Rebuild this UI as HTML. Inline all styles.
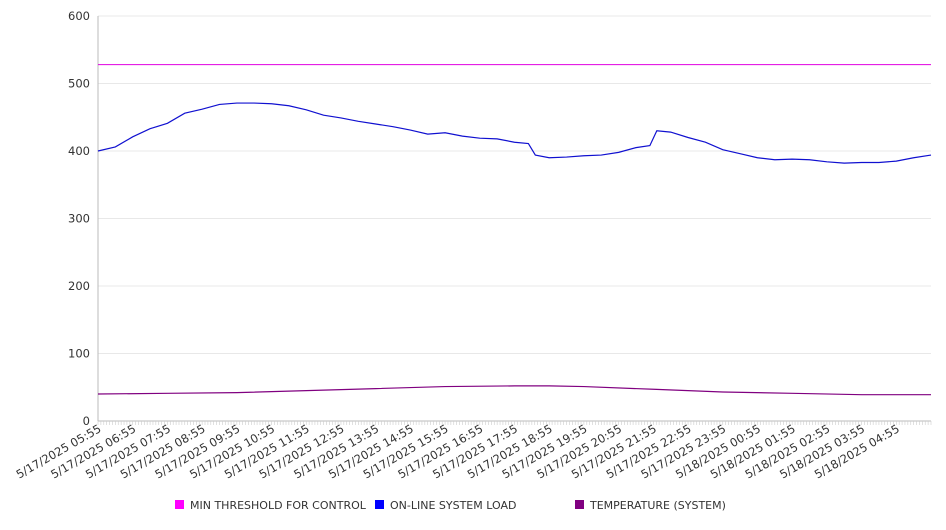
<!DOCTYPE html>
<html><head><meta charset="utf-8"><style>
body{margin:0;background:#fff;font-family:"DejaVu Sans","Liberation Sans",sans-serif}
svg text{font-family:"DejaVu Sans","Liberation Sans",sans-serif;fill:#333}
</style></head><body>
<svg id="chart" width="946" height="526" xmlns="http://www.w3.org/2000/svg"></svg>
<script>
const yTicks=[0,100,200,300,400,500,600];
const xLabels=["5/17/2025 05:55","5/17/2025 06:55","5/17/2025 07:55","5/17/2025 08:55","5/17/2025 09:55","5/17/2025 10:55","5/17/2025 11:55","5/17/2025 12:55","5/17/2025 13:55","5/17/2025 14:55","5/17/2025 15:55","5/17/2025 16:55","5/17/2025 17:55","5/17/2025 18:55","5/17/2025 19:55","5/17/2025 20:55","5/17/2025 21:55","5/17/2025 22:55","5/17/2025 23:55","5/18/2025 00:55","5/18/2025 01:55","5/18/2025 02:55","5/18/2025 03:55","5/18/2025 04:55"];
const loadHours=[0,0.5,1,1.5,2,2.5,3,3.5,4,4.5,5,5.5,6,6.5,7,7.5,8,8.5,9,9.5,10,10.5,11,11.5,12,12.4,12.6,13,13.5,14,14.5,15,15.5,15.9,16.1,16.5,17,17.5,18,18.5,19,19.5,20,20.5,21,21.5,22,22.5,23,23.5,24];
const loadValues=[400,406,421,433,441,456,462,469,471,471,470,467,461,453,449,444,440,436,431,425,427,422,419,418,413,411,394,390,391,393,394,398,405,408,430,428,420,413,402,396,390,387,388,387,384,382,383,383,385,390,394];
const tempHours=[0,2,4,6,8,10,12,13,14,16,18,20,22,24];
const tempValues=[40,41,42,45,48,51,52,52,51,47,43,41,39,39];
const thresholdValue=528;
const X0=98,X1=931,Y0=421,Y1=16,H=24;
const NS="http://www.w3.org/2000/svg";
const svg=document.getElementById('chart');
const xs=t=>X0+(X1-X0)*t/H;
const ys=v=>Y0-(Y0-Y1)*v/600;
function mk(tag,attrs){const e=document.createElementNS(NS,tag);for(const k in attrs)e.setAttribute(k,attrs[k]);svg.appendChild(e);return e;}
yTicks.forEach(v=>{
  const g=mk('line',{x1:X0,x2:X1,y1:ys(v),y2:ys(v),stroke:v===0?'#bbb':'#e8e8e8'});
  
  
  const t=mk('text',{x:X0-8,y:ys(v)+4,'text-anchor':'end','font-size':11.5});
  t.textContent=v;
  
  
});
const ax=mk('line',{x1:X0,x2:X0,y1:Y1,y2:Y0,stroke:'#bbb'});


for(let m=0;m<=H*60;m+=5){
  const tk=mk('line',{x1:xs(m/60),x2:xs(m/60),y1:Y0,y2:Y0+4,stroke:'#ccc','stroke-width':0.6});
  
  
}
xLabels.forEach((s,i)=>{
  const x=xs(i)+4,y=Y0+10;
  const t=mk('text',{x:x,y:y,'text-anchor':'end','font-size':11.5,transform:`rotate(-30 ${x} ${y})`});
  t.textContent=s;
  
  
});
const th=mk('line',{x1:X0,x2:X1,y1:ys(thresholdValue),y2:ys(thresholdValue),stroke:'#e000e0','stroke-width':1});


const lp=mk('polyline',{points:loadHours.map((h,i)=>xs(h)+','+ys(loadValues[i])).join(' '),fill:'none',stroke:'#1010d0','stroke-width':1.2});


const tp=mk('polyline',{points:tempHours.map((h,i)=>xs(h)+','+ys(tempValues[i])).join(' '),fill:'none',stroke:'#800080','stroke-width':1.2});


const legend=[["MIN THRESHOLD FOR CONTROL","#ff00ff",175],["ON-LINE SYSTEM LOAD","#0000ff",375],["TEMPERATURE (SYSTEM)","#800080",575]];
legend.forEach(([n,c,x])=>{
  const r=mk('rect',{x:x,y:500,width:9,height:9,fill:c});
  
  
  const t=mk('text',{x:x+15,y:509,'font-size':11});
  t.textContent=n;
  
  
});
</script>
</body></html>
